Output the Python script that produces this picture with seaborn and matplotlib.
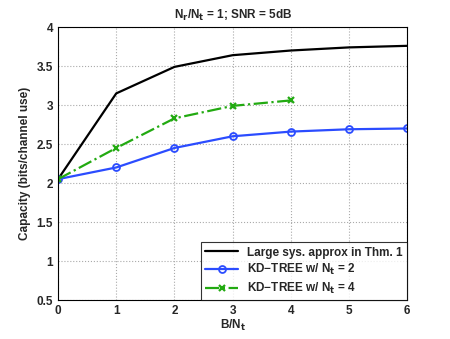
import pandas as pd
import matplotlib
matplotlib.use("Agg")
import matplotlib.pyplot as plt
import seaborn as sns

# Values
b_over_nt = [0, 1, 2, 3, 4, 5, 6]
large_sys = [2.05, 3.15, 3.49, 3.64, 3.70, 3.74, 3.76]
kd_nt2 = [2.05, 2.20, 2.45, 2.60, 2.66, 2.69, 2.70]
b_over_nt_4 = [0, 1, 2, 3, 4]
kd_nt4 = [2.05, 2.45, 2.83, 2.99, 3.06]

sns.set_style("white")
plt.rcParams['font.family'] = ['Liberation Sans', 'DejaVu Sans']
plt.rcParams['font.weight'] = 'bold'
plt.rcParams['mathtext.default'] = 'bf'

fig = plt.figure(figsize=(4.5, 3.39), dpi=100)
ax = fig.add_axes([0.129, 0.115, 0.776, 0.805])

blue = "#2b4cff"
green = "#22aa11"

sns.lineplot(x=b_over_nt, y=large_sys, ax=ax, color="black", linewidth=1.6,
             label="Large sys. approx in Thm. 1")
sns.lineplot(x=b_over_nt, y=kd_nt2, ax=ax, color=blue, linewidth=1.6,
             marker="o", markersize=5, markerfacecolor="none",
             markeredgecolor=blue, markeredgewidth=1.3,
             label="KD\u2212TREE w/ N$_t$ = 2")
sns.lineplot(x=b_over_nt_4, y=kd_nt4, ax=ax, color=green, linewidth=1.6,
             linestyle="-.", marker="x", markersize=4.5,
             markeredgecolor=green, markeredgewidth=1.6,
             label="KD\u2212TREE w/ N$_t$ = 4")

ax.set_xlim(0, 6)
ax.set_ylim(0.5, 4)
ax.set_xticks(range(0, 7))
ax.set_yticks([0.5, 1, 1.5, 2, 2.5, 3, 3.5, 4])
ax.set_yticklabels(["0.5", "1", "1.5", "2", "2.5", "3", "3.5", "4"])
ax.grid(True, linestyle=":", color="#aaaaaa", linewidth=0.8)
ax.tick_params(direction="in", labelsize=8.5, length=3)
for s in ax.spines.values():
    s.set_color("black")
    s.set_linewidth(0.8)

ax.set_title("N$_r$/N$_t$ = 1; SNR = 5dB", fontsize=8.5, fontweight="bold", pad=6)
ax.set_xlabel("B/N$_t$", fontsize=8.5, fontweight="bold", labelpad=1)
ax.set_ylabel("Capacity (bits/channel use)", fontsize=8.5, fontweight="bold", labelpad=4)

leg = ax.legend(loc="lower right", fontsize=8.5, frameon=True, fancybox=False,
                edgecolor="black", handlelength=2.8, borderaxespad=0,
                labelspacing=0.3, borderpad=0.35)
leg.get_frame().set_linewidth(0.8)

fig.savefig("out.png", dpi=100)
